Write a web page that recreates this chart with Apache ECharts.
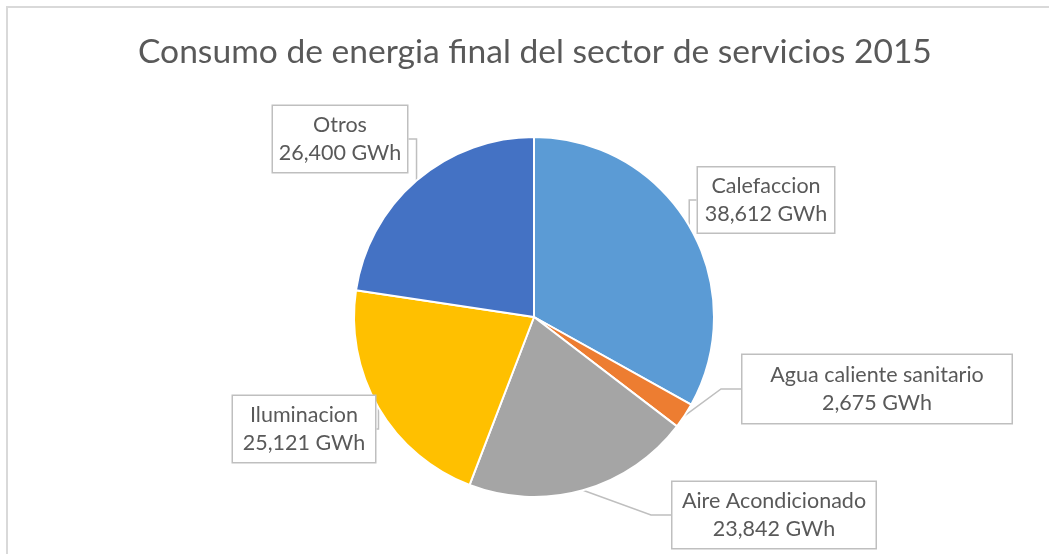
<!DOCTYPE html>
<html><head><meta charset="utf-8">
<script src="https://cdn.jsdelivr.net/npm/echarts@6/dist/echarts.min.js"></script>
<style>html,body{margin:0;padding:0;background:#fff}#c{width:1049px;height:554px}</style>
</head><body><div id="c"></div>
<script>
const categories = ['Calefaccion', 'Agua caliente sanitario', 'Aire Acondicionado', 'Iluminacion', 'Otros'];
const values = [38612, 2675, 23842, 25121, 26400];
const unit = 'GWh';
const title = 'Consumo de energia final del sector de servicios 2015';

const colors = ['#5B9BD5', '#ED7D31', '#A5A5A5', '#FFC000', '#4472C4'];
// label box layout: [centerX, centerY, width, height]
const labelBoxes = [[766, 200, 134, 63], [877, 389, 267, 66], [774, 515, 201, 64], [304, 429, 140, 64], [340, 139, 132, 64]];

const chart = echarts.init(document.getElementById('c'), null, {renderer: 'canvas'});
chart.setOption({
  animation: false,
  backgroundColor: '#fff',
  color: colors,
  title: {
    text: title, left: 133, top: 30,
    textStyle: {fontFamily: 'Lato', fontWeight: 'normal', fontSize: 33.6, color: '#595959'}
  },
  graphic: [{
    type: 'rect', shape: {x: 7, y: 7, width: 1100, height: 600},
    style: {fill: 'none', stroke: '#d9d9d9', lineWidth: 2}, silent: true
  }],
  series: [{
    type: 'pie',
    center: [534, 317],
    radius: [0, 180],
    startAngle: 90,
    clockwise: true,
    itemStyle: {borderColor: '#fff', borderWidth: 2},
    data: categories.map((c, i) => ({
      name: c, value: values[i],
      label: {width: labelBoxes[i][2], height: labelBoxes[i][3]}
    })),
    label: {
      show: true,
      position: 'outside',
      formatter: p => p.name + '\n' + p.value.toLocaleString('en-US') + ' ' + unit,
      fontFamily: 'Lato', fontSize: 21.5, lineHeight: 28, color: '#595959',
      align: 'center', verticalAlign: 'middle',
      backgroundColor: '#fff', borderColor: '#bfbfbf', borderWidth: 1.5,
      padding: [1, 1, 1, 1]
    },
    labelLine: {show: true, length: 20, length2: 20, lineStyle: {color: '#bfbfbf', width: 1.5}},
    labelLayout: p => ({x: labelBoxes[p.dataIndex][0], y: labelBoxes[p.dataIndex][1], align: 'center', verticalAlign: 'middle'}),
    emphasis: {disabled: true}
  }]
});
</script></body></html>
